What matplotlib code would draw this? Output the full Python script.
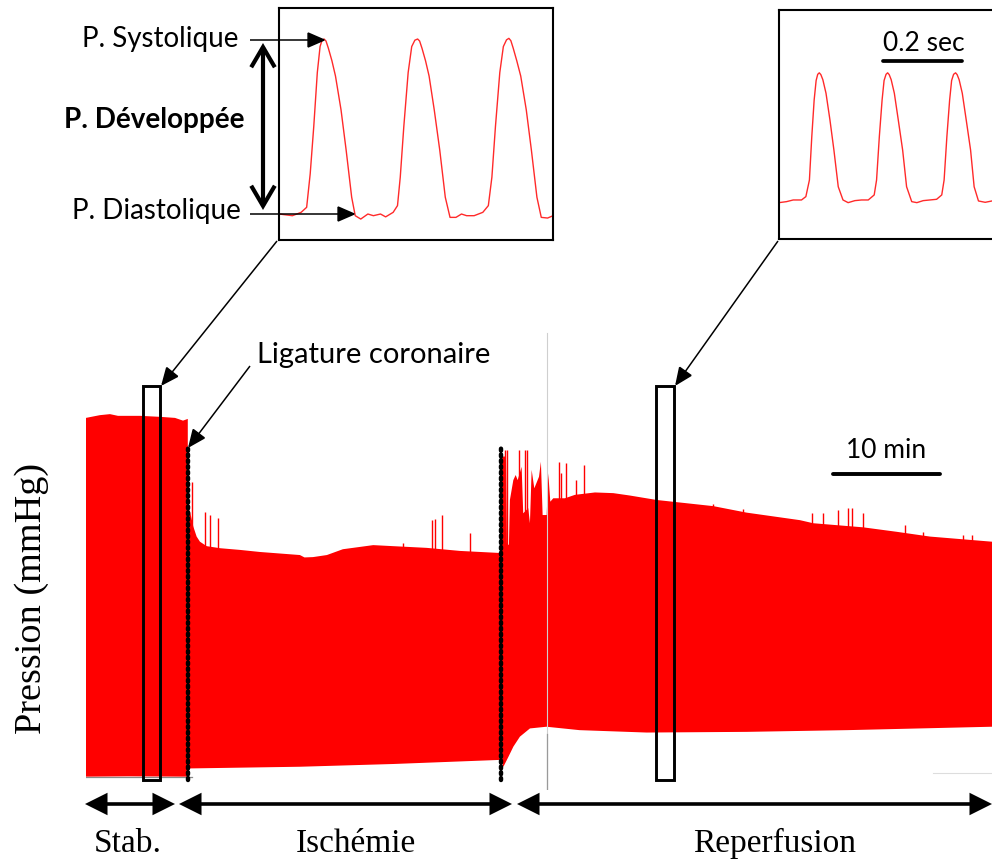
import matplotlib
matplotlib.use('Agg')
import matplotlib.pyplot as plt
from matplotlib.patches import Rectangle, FancyArrowPatch
import numpy as np

W, H, DPI = 992, 859, 100
SANS = ['Lato', 'DejaVu Sans']
SERIF = ['Liberation Serif', 'DejaVu Serif']
RED = '#ff0000'

# ---------------- data: main recording (time in min, pressure in mmHg) ----------------
phases = ['Stab.', 'Ischémie', 'Reperfusion']
t_ligature = 9.55
t_reperfusion = 38.93

up_t = [0.0, 1.3, 2.25, 3.0, 5.1, 7.0, 8.35, 9.1, 9.55,
        9.55, 9.76, 10.07, 10.38, 10.69, 11.32, 12.57, 14.45, 16.3, 20.07, 20.5, 21.3, 22.6,
        24.1, 26.95, 28.8, 31.96, 35.1, 38.84, 38.93,
        38.93, 38.99, 39.4, 39.49, 39.68, 39.77, 40.09, 40.31, 40.5, 40.87, 41.02, 41.49,
        41.65, 41.81, 42.06, 42.5, 42.68, 42.84, 43.22, 43.37, 43.56, 43.84, 44.94, 45.87,
        47.75, 49.47, 51.03, 53.54, 58.85, 61.98, 66.98, 68.23, 72.92, 76.05, 79.18, 85.0]
up_p = [104.3, 105.1, 105.4, 104.9, 104.9, 104.6, 104.3, 103.5, 104.0,
        78.0, 76.9, 72.5, 69.6, 68.1, 66.8, 66.2, 65.7, 65.1, 64.2, 63.5, 63.6, 64.2,
        65.9, 67.1, 66.8, 66.3, 65.4, 64.8, 64.8,
        93.0, 93.0, 93.0, 67.6, 67.1, 80.3, 86.1, 87.6, 86.1, 90.0, 76.4, 77.9,
        73.5, 89.1, 83.7, 87.1, 91.5, 75.9, 75.9, 88.1, 79.8, 80.8, 80.8, 81.8,
        82.5, 82.3, 81.6, 80.3, 78.5, 76.6, 74.4, 73.5, 72.3, 71.0, 69.6, 68.1]

lo_t = [0.0, 4.0, 9.55, 9.6, 20.07, 28.8, 38.84, 38.93, 39.16, 39.63, 40.1, 40.71,
        41.65, 43.2, 46.3, 52.6, 62.0, 71.4, 85.0]
lo_p = [-0.6, -0.5, -0.6, 1.8, 2.3, 3.1, 4.3, 4.3, 2.3, 5.2, 8.2, 11.1,
        13.5, 14.0, 13.0, 12.3, 12.5, 13.0, 14.0]

spike_t = [9.92, 11.16, 11.63, 12.41, 29.74, 32.43, 32.74, 33.36, 36.02,
           39.3, 39.46, 40.64, 41.18, 41.34, 44.37, 44.56, 45.03, 45.97, 46.75,
           58.85, 61.66, 68.07, 69.16, 70.57, 71.51, 71.83, 72.86, 76.83, 78.54, 82.3, 83.08]
spike_p = [85.5, 76.9, 75.9, 74.9, 67.7, 74.4, 74.7, 75.9, 70.7,
           94.9, 94.9, 94.9, 94.9, 94.9, 91.5, 88.1, 91.0, 86.1, 90.5,
           79.1, 77.6, 76.6, 76.6, 77.4, 77.9, 77.9, 76.6, 73.0, 71.0, 70.1, 70.1]

# zoom windows shown in the insets (min)
win_stab = (5.35, 6.94)
win_rep = (53.47, 55.16)

# ---------------- data: insets (time in s, pressure in mmHg) ----------------
ins1_t = [0.000, 0.034, 0.056, 0.070, 0.079, 0.088, 0.097, 0.104, 0.109, 0.114, 0.119, 0.125,
          0.134, 0.143, 0.157, 0.170, 0.184, 0.193, 0.207, 0.225, 0.239, 0.257, 0.270, 0.289,
          0.300, 0.307, 0.316, 0.327, 0.336, 0.344, 0.351, 0.356, 0.362, 0.371, 0.380, 0.393,
          0.407, 0.421, 0.433, 0.448, 0.462, 0.475, 0.494, 0.516, 0.530, 0.539, 0.548, 0.559,
          0.568, 0.576, 0.582, 0.587, 0.593, 0.602, 0.612, 0.626, 0.639, 0.653, 0.664, 0.680,
          0.694]
ins1_p = [5.6, 4.6, 6.6, 9.6, 29.6, 57.8, 90.0, 105.5, 109.3, 110.0, 108.8, 104.5,
          97.0, 87.9, 67.8, 43.7, 15.6, 4.6, 2.6, 5.6, 4.6, 5.6, 3.9, 6.6,
          10.6, 27.6, 57.8, 90.0, 105.5, 109.3, 110.0, 108.8, 104.5, 97.0, 87.9, 67.8,
          43.7, 15.6, 3.6, 3.6, 5.6, 4.6, 4.6, 6.6, 10.6, 27.6, 57.8, 90.0,
          105.5, 109.5, 110.4, 109.0, 104.5, 97.0, 87.9, 67.8, 43.7, 15.6, 3.6, 3.2,
          4.6]

ins2_t = [0.000, 0.019, 0.036, 0.057, 0.068, 0.077, 0.083, 0.089, 0.094, 0.098, 0.102, 0.106,
          0.111, 0.119, 0.129, 0.139, 0.150, 0.162, 0.175, 0.192, 0.209, 0.226, 0.241, 0.247,
          0.254, 0.261, 0.266, 0.271, 0.275, 0.279, 0.284, 0.292, 0.302, 0.313, 0.323, 0.336,
          0.349, 0.365, 0.382, 0.399, 0.412, 0.418, 0.425, 0.432, 0.437, 0.442, 0.447, 0.451,
          0.456, 0.464, 0.474, 0.485, 0.494, 0.505, 0.522, 0.539]
ins2_p = [11.6, 12.2, 13.2, 13.2, 15.2, 25.1, 51.0, 72.9, 84.5, 88.2, 89.1, 88.0,
          85.0, 76.9, 60.9, 43.0, 21.1, 13.2, 11.6, 12.8, 13.2, 13.2, 16.2, 25.1,
          51.0, 72.9, 84.5, 88.2, 89.1, 88.0, 85.0, 76.9, 60.9, 43.0, 21.1, 12.2,
          11.6, 12.8, 13.2, 13.6, 16.2, 25.1, 51.0, 72.9, 84.5, 88.2, 89.1, 88.0,
          85.0, 76.9, 60.9, 43.0, 21.1, 12.6, 11.8, 12.6]

# ---------------- figure ----------------
fig = plt.figure(figsize=(W / DPI, H / DPI), dpi=DPI)


def fig_rect(x0, y0, x1, y1):
    return [x0 / W, 1 - y1 / H, (x1 - x0) / W, (y1 - y0) / H]


# main trace
ax = fig.add_axes(fig_rect(86, 330, 992, 790))
ax.set_xlim(0, 85)
ax.set_ylim(-4.5, 130)
ax.axis('off')

poly_t = np.concatenate([up_t, lo_t[::-1]])
poly_p = np.concatenate([up_p, lo_p[::-1]])
ax.fill(poly_t, poly_p, color=RED, lw=0, zorder=2)
ax.vlines(spike_t, 50, spike_p, color=RED, lw=1.0, zorder=2)
ax.plot([0, 9.9], [-0.7, -0.7], color='#8a8a8a', lw=0.9, zorder=1.5)
ax.plot([79.5, 85], [0.5, 0.5], color='#dddddd', lw=0.8, zorder=1.5)
ax.plot([43.22, 43.22], [129, -4.5], color='#cfcfcf', lw=0.8, zorder=3)
ax.plot([43.22, 43.22], [12.0, -4.5], color='#9a9a9a', lw=0.9, zorder=3)

for tv in (t_ligature, t_reperfusion):
    ax.plot([tv, tv], [-1.6, 95.4], color='k', lw=3.2, linestyle=(0, (0.45, 0.85)),
            dash_capstyle='round', zorder=4)

for (a, b) in (win_stab, win_rep):
    ax.add_patch(Rectangle((a, -1.6), b - a, 115.2, fill=False, ec='k', lw=2.1,
                           joinstyle='miter', zorder=5))

# 10 min scale bar
ax.plot([70.1, 80.1], [87.9, 87.9], color='k', lw=2.8, solid_capstyle='round', zorder=5)
ax.text(75.1, 92.6, '10 min', ha='center', va='baseline', fontsize=19, family=SANS)

# insets
ax1 = fig.add_axes(fig_rect(279, 8, 553, 240))
ax1.set_xlim(0, 0.6937)
ax1.set_ylim(-9.9, 128.5)
ax1.plot(ins1_t, ins1_p, color='#ff2a2a', lw=1.0)

ax2 = fig.add_axes(fig_rect(779, 10, 1010, 239))
ax2.set_xlim(0, 0.5848)
ax2.set_ylim(-10.1, 126.6)
ax2.plot(ins2_t, ins2_p, color='#ff2a2a', lw=1.0)
ax2.plot([0.263, 0.463], [96.1, 96.1], color='k', lw=2.7, solid_capstyle='round')
ax2.text(0.366, 102.3, '0.2 sec', ha='center', va='baseline', fontsize=19, family=SANS)

for a in (ax1, ax2):
    a.set_xticks([])
    a.set_yticks([])
    for s in a.spines.values():
        s.set_linewidth(1.5)
        s.set_color('k')

# overlay for annotations (pixel coordinates)
ov = fig.add_axes([0, 0, 1, 1])
ov.set_xlim(0, W)
ov.set_ylim(H, 0)
ov.axis('off')
ov.patch.set_alpha(0)
ov.set_zorder(10)


def arrow(tail, tip, style, lw, ms=10):
    ov.add_patch(FancyArrowPatch(tail, tip, arrowstyle=style, lw=lw, color='k',
                                 mutation_scale=ms, shrinkA=0, shrinkB=0,
                                 joinstyle='miter', capstyle='butt'))


head = '-|>,head_length=1.15,head_width=0.5'
arrow((277, 241), (161, 386), head, 1.1)
arrow((778, 241), (675, 386), head, 1.1)
arrow((250, 366), (188, 448), head, 1.1)
arrow((250, 40), (326, 40), head, 1.1)
arrow((250, 214), (356, 214), head, 1.1)
arrow((263, 43), (263, 210), '<->,head_length=1.45,head_width=0.85', 3.0)

ov.text(238, 47, 'P. Systolique', ha='right', va='baseline', fontsize=20, family=SANS)
ov.text(245, 128, 'P. Développée', ha='right', va='baseline', fontsize=20,
        family=SANS, fontweight='bold')
ov.text(241, 219, 'P. Diastolique', ha='right', va='baseline', fontsize=20, family=SANS)
ov.text(374, 363, 'Ligature coronaire', ha='center', va='baseline', fontsize=21, family=SANS)

# phase arrows and labels
bar_style = '<|-|>,head_length=1.2,head_width=0.6'
phase_px = [(85, 175), (179, 512), (517, 992)]
label_x = [128, 356, 775]
for (x0, x1), lx, name in zip(phase_px, label_x, phases):
    arrow((x0, 804), (x1, 804), bar_style, 2.6)
    ov.text(lx, 852, name, ha='center', va='baseline', fontsize=24, family=SERIF)

ov.text(32, 598, 'Pression (mmHg)', ha='center', va='center', rotation=90,
        fontsize=27.5, family=SERIF)

fig.savefig('out.png', dpi=DPI)
